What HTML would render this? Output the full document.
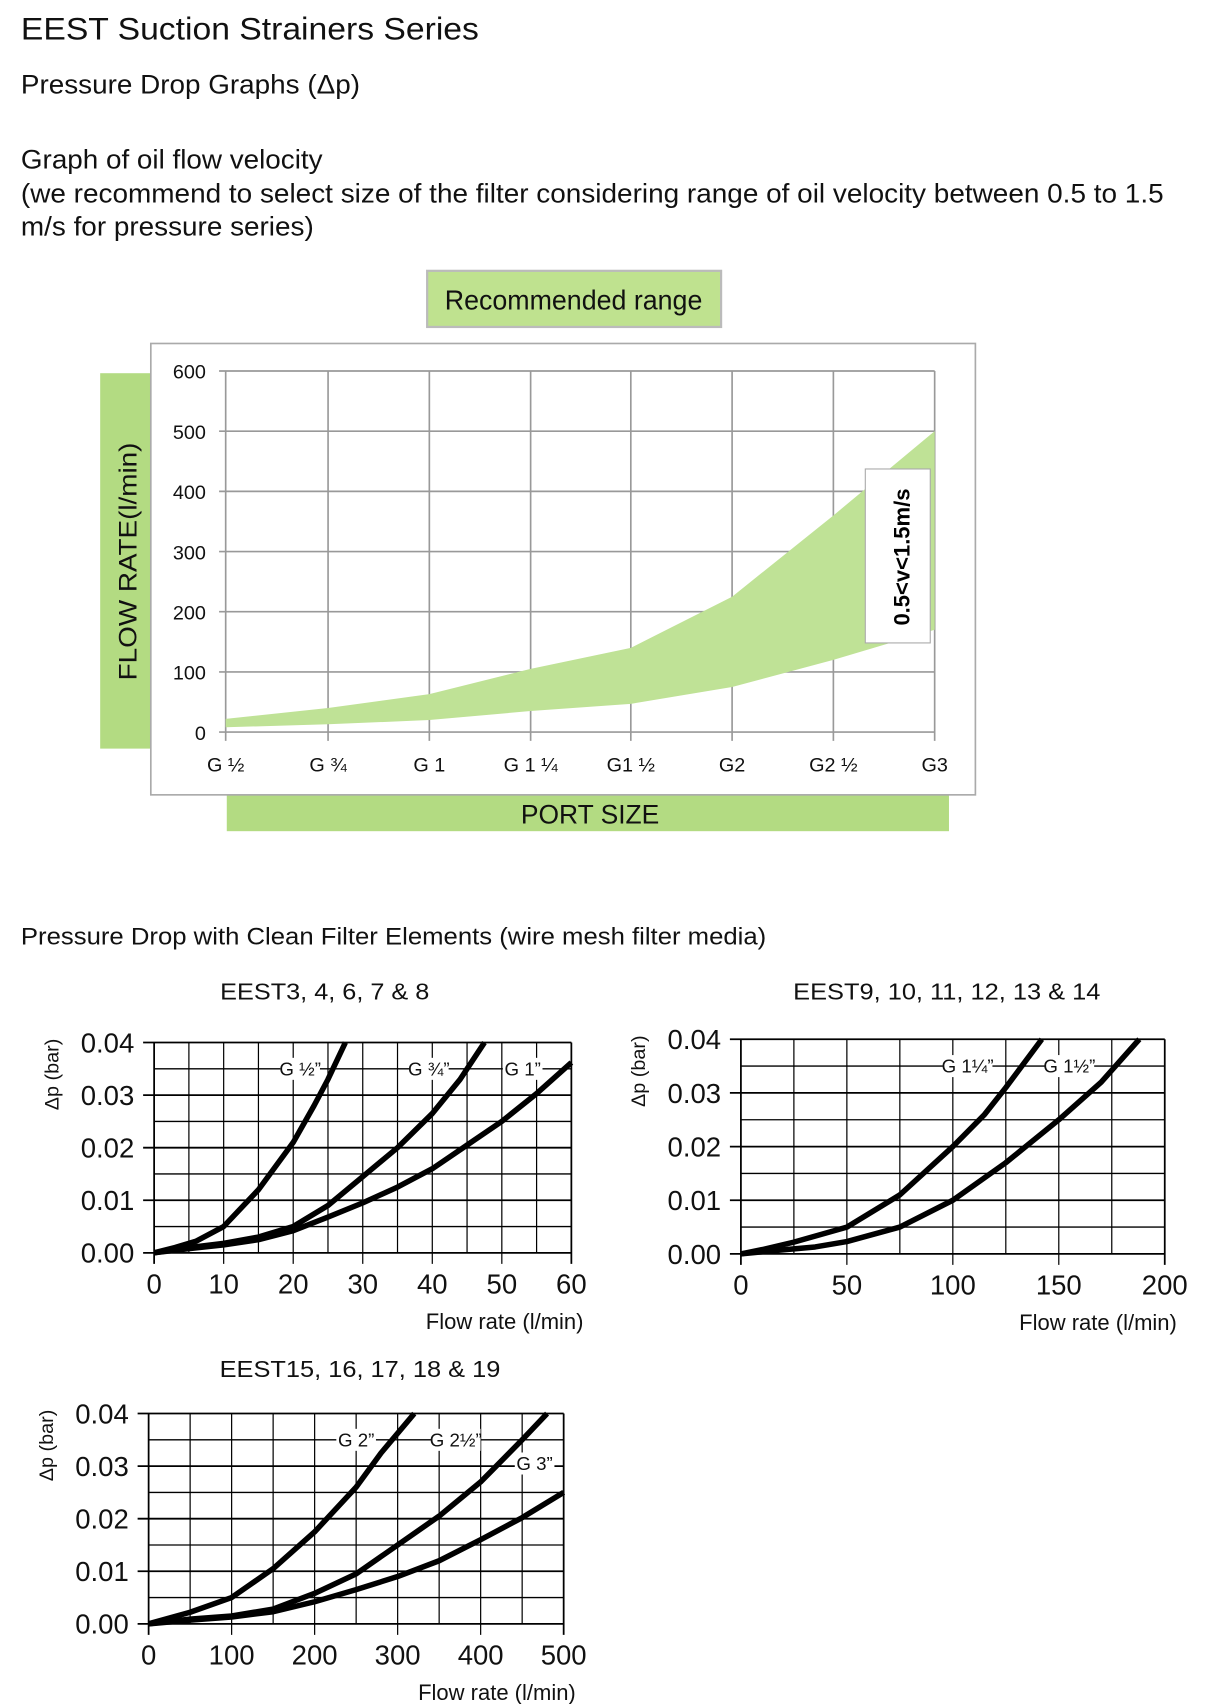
<!DOCTYPE html>
<html><head><meta charset="utf-8"><style>
html,body{margin:0;padding:0;background:#fff;}
svg{display:block;}
text{font-family:"Liberation Sans",sans-serif;}
</style></head><body>
<svg id="s" width="1211" height="1704" viewBox="0 0 1211 1704" xmlns="http://www.w3.org/2000/svg">
<g id="g" transform="scale(1.1009)">
<text x="19" y="36" font-size="29" fill="#111" textLength="416" lengthAdjust="spacingAndGlyphs">EEST Suction Strainers Series</text>
<text x="19" y="85" font-size="24" fill="#111" textLength="308" lengthAdjust="spacingAndGlyphs">Pressure Drop Graphs (Δp)</text>
<text x="19" y="153" font-size="24" fill="#111" textLength="274" lengthAdjust="spacingAndGlyphs">Graph of oil flow velocity</text>
<text x="19" y="184" font-size="24" fill="#111" textLength="1038" lengthAdjust="spacingAndGlyphs">(we recommend to select size of the filter considering range of oil velocity between 0.5 to 1.5</text>
<text x="19" y="214" font-size="24" fill="#111" textLength="266" lengthAdjust="spacingAndGlyphs">m/s for pressure series)</text>

<rect x="388" y="246" width="267" height="51" fill="#bfe28f" stroke="#bbb" stroke-width="2"/>
<text x="521" y="281" font-size="25" text-anchor="middle" fill="#111" textLength="234" lengthAdjust="spacingAndGlyphs">Recommended range</text>
<rect x="91" y="339" width="46" height="341" fill="#b3db82"/>
<rect x="206" y="722" width="656" height="33" fill="#b3db82"/>
<rect x="137" y="312" width="749" height="410" fill="#fff" stroke="#aaa" stroke-width="1.5"/>
<text x="536" y="748" font-size="24" text-anchor="middle" fill="#111">PORT  SIZE</text>
<text transform="translate(124,510) rotate(-90)" font-size="23" text-anchor="middle" fill="#111" textLength="216" lengthAdjust="spacingAndGlyphs">FLOW RATE(l/min)</text>
<g id="c1"></g>
<rect x="786" y="426" width="59" height="158" fill="#fff" stroke="#aaa"/>
<text transform="translate(826,506) rotate(-90)" font-size="20" font-weight="bold" text-anchor="middle" fill="#000">0.5&lt;v&lt;1.5m/s</text>

<text x="19" y="858" font-size="22" fill="#111" textLength="677" lengthAdjust="spacingAndGlyphs">Pressure Drop with Clean Filter Elements (wire mesh filter media)</text>
<text x="295" y="908" font-size="21" text-anchor="middle" fill="#111" textLength="190" lengthAdjust="spacingAndGlyphs">EEST3, 4, 6, 7 &amp; 8</text>
<text x="860" y="908" font-size="21" text-anchor="middle" fill="#111" textLength="279" lengthAdjust="spacingAndGlyphs">EEST9, 10, 11, 12, 13 &amp; 14</text>
<text x="327" y="1251" font-size="21" text-anchor="middle" fill="#111" textLength="255" lengthAdjust="spacingAndGlyphs">EEST15, 16, 17, 18 &amp; 19</text>
<g id="c2"></g>
</g>
</svg>
<script>
var NS="http://www.w3.org/2000/svg";
function el(p,t,a,txt){var e=document.createElementNS(NS,t);for(var k in a)e.setAttribute(k,a[k]);if(txt!=null)e.textContent=txt;p.appendChild(e);return e;}
var c1=document.getElementById("c1");
var L=205,R=849,T=337,B=665;
for(var i=0;i<=6;i++){var y=B-(B-T)*i/6;el(c1,"line",{x1:L-6,x2:R,y1:y,y2:y,stroke:"#999","stroke-width":1.5});
el(c1,"text",{x:187,y:y+7,"font-size":18,"text-anchor":"end",fill:"#111"},String(i*100));}
var xs=[205,298,390,482,573,665,757,849];var labs=["G ½","G ¾","G 1","G 1 ¼","G1 ½","G2","G2 ½","G3"];
for(var i=0;i<8;i++){el(c1,"line",{x1:xs[i],x2:xs[i],y1:T,y2:B+8,stroke:"#999","stroke-width":1.5});
el(c1,"text",{x:xs[i],y:701,"font-size":18,"text-anchor":"middle",fill:"#111"},labs[i]);}
var up=[22,40,63,105,140,225,360,500],lo=[8,13,20,35,47,75,120,170];
var yv=function(v){return B-(B-T)*v/600;};var d="M";
for(var i=0;i<8;i++)d+=xs[i]+","+yv(up[i])+" L";
for(var i=7;i>=0;i--)d+=xs[i]+","+yv(lo[i])+(i?" L":"");
el(c1,"path",{d:d+"Z",fill:"#bfe296"});
var c2=document.getElementById("c2");
function chart(o){
 var g=el(c2,"g",{});
 var W=o.R-o.L,H=o.B-o.T;
 for(var i=0;i<=8;i++){var y=o.B-H*i/8;var maj=i%2==0;
  el(g,"line",{x1:maj?o.L-10:o.L,x2:o.R,y1:y,y2:y,stroke:"#000","stroke-width":maj?1.6:1.2});
  if(maj)el(g,"text",{x:o.L-18,y:y+9,"font-size":25,"text-anchor":"end",fill:"#111"},(0.01*i/2).toFixed(2));}
 for(var i=0;i<=o.nc;i++){var x=o.L+W*i/o.nc;el(g,"line",{x1:x,x2:x,y1:o.T,y2:o.B+(i%o.tk==0?10:0),stroke:"#000","stroke-width":(i==0||i==o.nc)?1.6:1.1});}
 for(var i=0;i<o.ticks.length;i++){var x=o.L+W*i/(o.ticks.length-1);el(g,"text",{x:x,y:o.B+37,"font-size":25,"text-anchor":"middle",fill:"#111"},o.ticks[i]);}
 el(g,"text",{transform:"translate("+(o.L-87)+","+(o.T+29)+") rotate(-90)","font-size":18,"text-anchor":"middle",fill:"#111"},"Δp (bar)");
 el(g,"text",{x:o.R+11,y:o.B+69,"font-size":20,"text-anchor":"end",fill:"#111"},"Flow rate (l/min)");
 var X=function(v){return o.L+W*v/o.xmax;},Y=function(v){return o.B-H*v/0.04;};
 o.curves.forEach(function(c){var p="M"+X(0)+","+Y(0);
  for(var i=0;i<c.length;i++)p+=" L"+X(c[i][0])+","+Y(c[i][1]);
  el(g,"path",{d:p,fill:"none",stroke:"#000","stroke-width":5,"stroke-linejoin":"round"});});
 o.labels.forEach(function(l){var x=X(l[0]),y=Y(l[1]);var tw=l[2].length*9;
  el(g,"rect",{x:x-tw/2,y:y-10,width:tw,height:20,fill:"#fff"});
  el(g,"text",{x:x,y:y+6,"font-size":17,"text-anchor":"middle",fill:"#111"},l[2]);});
}
chart({L:140,R:519,T:947,B:1138,nc:12,tk:2,xmax:60,ticks:["0","10","20","30","40","50","60"],
 curves:[
  [[3,0.001],[6,0.0022],[10,0.005],[15,0.012],[20,0.021],[23,0.028],[25,0.033],[27.5,0.04]],
  [[5,0.001],[10,0.0018],[15,0.003],[20,0.005],[25,0.009],[30,0.0145],[35,0.02],[40,0.0265],[44,0.033],[47.5,0.04]],
  [[5,0.0008],[10,0.0015],[15,0.0025],[20,0.0042],[25,0.0068],[30,0.0095],[35,0.0125],[40,0.016],[45,0.0205],[50,0.025],[55,0.0303],[60,0.0362]]],
 labels:[[21,0.035,"G ½”"],[39.5,0.035,"G ¾”"],[53,0.035,"G 1”"]]});
chart({L:673,R:1058,T:944,B:1139,nc:8,tk:2,xmax:200,ticks:["0","50","100","150","200"],
 curves:[
  [[10,0.0008],[25,0.0022],[50,0.005],[75,0.011],[100,0.02],[115,0.026],[125,0.031],[142,0.04]],
  [[15,0.0006],[35,0.0013],[50,0.0023],[75,0.005],[100,0.01],[125,0.017],[150,0.025],[170,0.032],[188,0.04]]],
 labels:[[107,0.035,"G 1¼”"],[155,0.035,"G 1½”"]]});
chart({L:135,R:512,T:1284,B:1475,nc:10,tk:2,xmax:500,ticks:["0","100","200","300","400","500"],
 curves:[
  [[50,0.0022],[100,0.005],[150,0.0105],[200,0.0175],[250,0.026],[280,0.0325],[320,0.04]],
  [[50,0.0009],[100,0.0015],[150,0.0028],[200,0.0058],[250,0.0095],[300,0.015],[350,0.0205],[400,0.027],[450,0.035],[480,0.04]],
  [[50,0.0007],[100,0.0013],[150,0.0023],[200,0.0042],[250,0.0065],[300,0.009],[350,0.012],[400,0.016],[450,0.0202],[500,0.025]]],
 labels:[[250,0.035,"G 2”"],[370,0.035,"G 2½”"],[465,0.0305,"G 3”"]]});
</script>
</body></html>
